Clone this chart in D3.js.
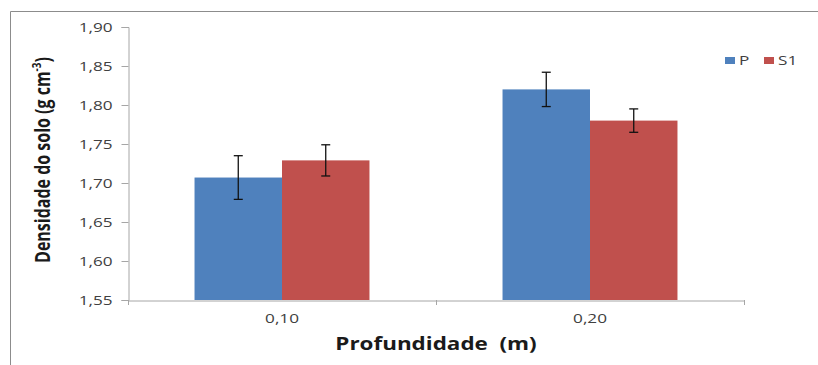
<!DOCTYPE html>
<html>
<head>
<meta charset="utf-8">
<script src="https://cdn.jsdelivr.net/npm/d3@7"></script>
<style>
  body { margin: 0; background: #fff; }
  svg { display: block; }
</style>
</head>
<body>
<svg width="818" height="365"></svg>
<script>
// chart values
const categories = ["0,10", "0,20"]
const seriesNames = ["P", "S1"]
const seriesColors = ["#4F81BD", "#C0504D"]
const valuesP = [1.707, 1.820]
const valuesS1 = [1.729, 1.780]
const errP = [0.028, 0.022]
const errS1 = [0.020, 0.015]
const yTicks = [1.55, 1.60, 1.65, 1.70, 1.75, 1.80, 1.85, 1.90]

document.addEventListener('DOMContentLoaded', () => {
    drawChart()
})

function drawChart() {
    const svg = d3.select("svg")
    const font = "'Open Sans', 'Liberation Sans', sans-serif"
    const sx = 1.32   // the source picture is stretched sideways, so text is too
    const left = 128, right = 744, top = 27, bottom = 300

    // outer frame (runs off the right and bottom edges)
    svg.append("path")
        .attr("d", "M10.5,400 V11.5 H830")
        .attr("fill", "none").attr("stroke", "#8c8c8c").attr("stroke-width", 1)

    const x0 = d3.scaleBand().domain(categories).range([left, right]).paddingInner(0.432).paddingOuter(0.216)
    const x1 = d3.scaleBand().domain(seriesNames).range([0, x0.bandwidth()])
    const y = d3.scaleLinear().domain([1.55, 1.90]).range([bottom, top])

    const rows = categories.map((c, i) => ({
        cat: c,
        bars: [
            { s: "P", v: valuesP[i], e: errP[i], color: seriesColors[0] },
            { s: "S1", v: valuesS1[i], e: errS1[i], color: seriesColors[1] }
        ]
    }))

    // y axis
    const yAxis = svg.append("g")
        .attr("transform", `translate(${left + 0.5},0)`)
        .call(d3.axisLeft(y).tickValues(yTicks).tickSize(7)
            .tickFormat(d => d3.format(".2f")(d).replace(".", ",")))
    yAxis.select(".domain").attr("stroke", "#a6a6a6")
    yAxis.selectAll(".tick line").attr("stroke", "#a6a6a6")
    yAxis.selectAll("text")
        .attr("x", -16 / sx).attr("dy", "0.34em")
        .attr("transform", `scale(${sx},1)`)
        .attr("font-family", font).attr("font-size", 13).attr("fill", "#404040")

    // bars
    const groups = svg.selectAll(".grp").data(rows).enter().append("g")
        .attr("transform", d => `translate(${x0(d.cat)},0)`)
    groups.selectAll("rect").data(d => d.bars).enter().append("rect")
        .attr("x", d => x1(d.s))
        .attr("y", d => y(d.v))
        .attr("width", x1.bandwidth())
        .attr("height", d => bottom - y(d.v))
        .attr("fill", d => d.color)

    // error bars
    const cx = d => x1(d.s) + x1.bandwidth() / 2
    const eb = groups.selectAll(".err").data(d => d.bars).enter().append("g")
        .attr("stroke", "#111").attr("stroke-width", 1.3)
    eb.append("line")
        .attr("x1", cx).attr("x2", cx)
        .attr("y1", d => y(d.v + d.e)).attr("y2", d => y(d.v - d.e))
    eb.append("line")
        .attr("x1", d => cx(d) - 4.5).attr("x2", d => cx(d) + 4.5)
        .attr("y1", d => y(d.v + d.e)).attr("y2", d => y(d.v + d.e))
    eb.append("line")
        .attr("x1", d => cx(d) - 4.5).attr("x2", d => cx(d) + 4.5)
        .attr("y1", d => y(d.v - d.e)).attr("y2", d => y(d.v - d.e))

    // x axis
    const xAxis = svg.append("g")
        .attr("transform", `translate(0,${bottom + 0.5})`)
        .call(d3.axisBottom(x0).tickSize(0))
    xAxis.select(".domain").attr("stroke", "#a6a6a6")
    xAxis.selectAll("text")
        .attr("y", 22.5).attr("dy", 0)
        .attr("transform", `scale(${sx},1)`)
        .attr("font-family", font).attr("font-size", 13).attr("fill", "#404040")
    // ticks between categories
    const mid = (left + right) / 2
    svg.selectAll(".xt").data([left, mid, right]).enter().append("line")
        .attr("x1", d => d + 0.5).attr("x2", d => d + 0.5)
        .attr("y1", bottom).attr("y2", bottom + 5)
        .attr("stroke", "#a6a6a6")

    // axis titles
    svg.append("text")
        .attr("transform", `translate(${mid},350) scale(${sx},1)`)
        .attr("text-anchor", "middle")
        .attr("font-family", font).attr("font-weight", "bold").attr("font-size", 17)
        .attr("fill", "#1a1a1a")
        .attr("xml:space", "preserve")
        .text("Profundidade  (m)")

    const yt = svg.append("text")
        .attr("transform", `translate(50,160) scale(${sx},1) rotate(-90)`)
        .attr("text-anchor", "middle")
        .attr("font-family", font).attr("font-weight", "bold").attr("font-size", 16)
        .attr("fill", "#1a1a1a")
    yt.append("tspan").text("Densidade do solo (g cm")
    yt.append("tspan").attr("font-size", 10).attr("dy", -7).text("-3")
    yt.append("tspan").attr("dy", 7).text(")")

    // legend
    const legend = svg.selectAll(".lg").data(seriesNames).enter().append("g")
        .attr("transform", (d, i) => `translate(${725 + i * 39},57)`)
    legend.append("rect").attr("width", 10).attr("height", 7)
        .attr("fill", (d, i) => seriesColors[i])
    legend.append("text")
        .attr("transform", `translate(14,7.5) scale(${sx},1)`)
        .attr("font-family", font).attr("font-size", 13).attr("fill", "#404040")
        .text(d => d)
}
</script>
</body>
</html>
